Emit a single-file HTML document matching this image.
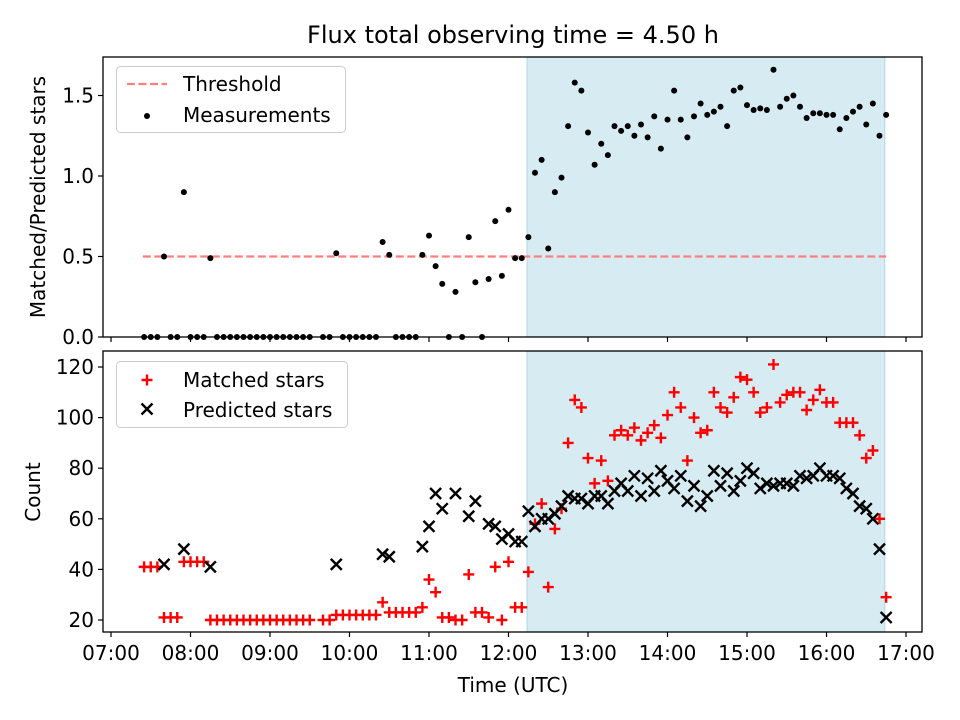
<!DOCTYPE html>
<html><head><meta charset="utf-8"><style>
html,body{margin:0;padding:0;background:#fff}
svg{display:block;font-family:"DejaVu Sans","Liberation Sans",sans-serif}
</style></head><body>
<svg id="fig" width="960" height="720" viewBox="0 0 960 720"></svg>
<script>
// ---- data (minutes after 07:00 UTC) ----
const ratioTimes = [25,30,35,40,45,50,55,60,65,70,75,80,85,90,95,100,105,110,115,120,125,130,135,140,145,150,160,165,170,175,180,185,190,195,200,205,210,215,220,225,230,235,240,245,250,255,260,265,270,275,280,285,290,295,300,305,310,315,320,325,330,335,340,345,350,355,360,365,370,375,380,385,390,395,400,405,410,415,420,425,430,435,440,445,450,455,460,465,470,475,480,485,490,495,500,505,510,515,520,525,530,535,540,545,550,555,560,565,570,575,580,585];
const ratioValues = [0,0,0,0.50,0,0,0.90,0,0,0,0.49,0,0,0,0,0,0,0,0,0,0,0,0,0,0,0,0,0,0.52,0,0,0,0,0,0,0.59,0.51,0,0,0,0,0.51,0.63,0.44,0.33,0,0.28,0,0.62,0.34,0,0.36,0.72,0.38,0.79,0.49,0.49,0.62,1.02,1.10,0.55,0.90,0.99,1.31,1.58,1.53,1.27,1.07,1.20,1.13,1.31,1.28,1.31,1.25,1.32,1.24,1.37,1.17,1.35,1.53,1.35,1.24,1.37,1.45,1.38,1.40,1.43,1.31,1.53,1.55,1.44,1.41,1.42,1.41,1.66,1.43,1.48,1.50,1.43,1.36,1.39,1.39,1.38,1.38,1.29,1.36,1.40,1.43,1.32,1.45,1.25,1.38];
const countTimes = ratioTimes;
const matchedValues = [41,41,41,21,21,21,43,43,43,43,20,20,20,20,20,20,20,20,20,20,20,20,20,20,20,20,20,20,22,22,22,22,22,22,22,27,23,23,23,23,23,25,36,31,21,21,20,20,38,23,23,21,41,20,43,25,25,39,58,66,33,56,64,90,107,104,84,74,83,75,93,95,93,96,91,94,97,92,101,110,104,83,100,94,95,110,104,102,108,116,115,110,102,104,121,106,109,110,110,103,107,111,106,106,98,98,98,93,84,87,60,29];
const predictedValues = [null,null,null,42,null,null,48,null,null,null,41,null,null,null,null,null,null,null,null,null,null,null,null,null,null,null,null,null,42,null,null,null,null,null,null,46,45,null,null,null,null,49,57,70,64,null,70,null,61,67,null,58,57,52,54,51,51,63,57,60,60,62,65,69,68,68,66,69,69,66,71,74,71,77,69,76,71,79,75,72,77,67,73,65,69,79,73,78,71,75,80,78,72,74,73,74,74,73,77,76,77,80,77,77,76,72,70,65,64,60,48,21];
const threshold = [0.5];
const thresholdSpan = [24,585];
const shadeSpan = [314,584];
const xTickLabels = ["07:00","08:00","09:00","10:00","11:00","12:00","13:00","14:00","15:00","16:00","17:00"];
const topYTicks = [0,0.5,1.0,1.5];
const botYTicks = [20,40,60,80,100,120];

// ---- geometry ----
const L=103,R=922, T1=57,B1=337, T2=351,B2=632;
const xs = m => 111 + m*79.5/60;
const y1 = v => 337 - v*161;
const y2 = c => 620 - (c-20)*2.53;
const NS="http://www.w3.org/2000/svg";
const svg=document.getElementById('fig');
function mk(tag,attrs,parent){const e=document.createElementNS(NS,tag);for(const k in attrs)e.setAttribute(k,attrs[k]);(parent||svg).appendChild(e);return e;}
function txt(s,attrs,parent){const e=mk('text',attrs,parent);e.textContent=s;return e;}

for(const [T,B,nm] of [[T1,B1,'top-observing-window'],[T2,B2,'bottom-observing-window']]){
  const r=mk('rect',{x:xs(shadeSpan[0]),y:T,width:xs(shadeSpan[1])-xs(shadeSpan[0]),height:B-T,fill:'#add8e6','fill-opacity':0.5,stroke:'#add8e6','stroke-width':1});
  
  
}
const th=mk('line',{x1:xs(thresholdSpan[0]),x2:xs(thresholdSpan[1]),y1:y1(threshold[0]),y2:y1(threshold[0]),stroke:'#ff7f7f','stroke-width':2.2,'stroke-dasharray':'8,3.5'});


const gm=mk('g',{fill:'#000'});


ratioTimes.forEach((t,i)=>{
  const c=mk('circle',{cx:xs(t),cy:y1(ratioValues[i]),r:3},gm);
  
  
});
const gp=mk('g',{stroke:'#ff0000','stroke-width':2.4});


countTimes.forEach((t,i)=>{
  const v=matchedValues[i]; if(v==null) return;
  const x=xs(t),y=y2(v);
  const p=mk('path',{d:`M${x-5.5},${y}H${x+5.5}M${x},${y-5.5}V${y+5.5}`},gp);
  
  
});
const gx=mk('g',{stroke:'#000','stroke-width':2.4});


countTimes.forEach((t,i)=>{
  const v=predictedValues[i]; if(v==null) return;
  const x=xs(t),y=y2(v),s=5.5;
  const p=mk('path',{d:`M${x-s},${y-s}L${x+s},${y+s}M${x-s},${y+s}L${x+s},${y-s}`},gx);
  
  
});
for(const [T,B,nm] of [[T1,B1,'top-axes-frame'],[T2,B2,'bottom-axes-frame']]){
  const f=mk('rect',{x:L,y:T,width:R-L,height:B-T,fill:'none',stroke:'#000','stroke-width':1.3});
  
  
}
xTickLabels.forEach((lab,i)=>{
  const x=xs(i*60);
  mk('line',{x1:x,x2:x,y1:B1,y2:B1+5,stroke:'#000','stroke-width':1.2});
  mk('line',{x1:x,x2:x,y1:B2,y2:B2+5,stroke:'#000','stroke-width':1.2});
  const t=txt(lab,{x:x,y:B2+28,'font-size':20,'text-anchor':'middle',fill:'#000'});
  
  
});
topYTicks.forEach(v=>{
  const y=y1(v);
  mk('line',{x1:L-5,x2:L,y1:y,y2:y,stroke:'#000','stroke-width':1.2});
  const t=txt(v.toFixed(1),{x:L-9,y:y+7,'font-size':20,'text-anchor':'end'});
  
  
});
botYTicks.forEach(v=>{
  const y=y2(v);
  mk('line',{x1:L-5,x2:L,y1:y,y2:y,stroke:'#000','stroke-width':1.2});
  const t=txt(String(v),{x:L-9,y:y+7,'font-size':20,'text-anchor':'end'});
  
  
});
</script>
<svg width="960" height="720" style="position:absolute;left:0;top:0;font-family:'DejaVu Sans','Liberation Sans',sans-serif">
  <text x="513" y="43" font-size="24" text-anchor="middle">Flux total observing time = 4.50 h</text>
  <text transform="translate(45,197) rotate(-90)" font-size="20" text-anchor="middle">Matched/Predicted stars</text>
  <text transform="translate(40,492) rotate(-90)" font-size="20" text-anchor="middle">Count</text>
  <text x="513" y="692" font-size="20" text-anchor="middle">Time (UTC)</text>
  <g>
    <rect x="116.5" y="66.5" width="229" height="66" rx="4" fill="#fff" fill-opacity="0.8" stroke="#ccc"/>
    <line x1="127" x2="167" y1="84" y2="84" stroke="#ff7f7f" stroke-width="2.2" stroke-dasharray="8,3.5"/>
    <text x="183" y="91" font-size="20">Threshold</text>
    <circle cx="147" cy="116" r="3" fill="#000"/>
    <text x="183" y="122" font-size="20">Measurements</text>
  </g>
  <g>
    <rect x="116.5" y="361.5" width="231" height="66" rx="4" fill="#fff" fill-opacity="0.8" stroke="#ccc"/>
    <path d="M141.5,380H152.5M147,374.5V385.5" stroke="#f00" stroke-width="2.4"/>
    <text x="183" y="387" font-size="20">Matched stars</text>
    <path d="M141.5,403.5L152.5,414.5M141.5,414.5L152.5,403.5" stroke="#000" stroke-width="2.4"/>
    <text x="183" y="417" font-size="20">Predicted stars</text>
  </g>
</svg>
</body></html>
